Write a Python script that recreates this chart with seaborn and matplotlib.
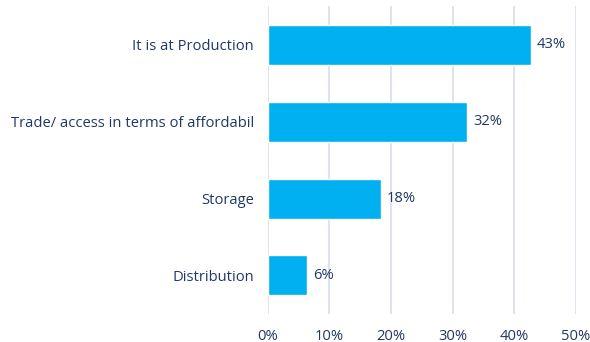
import matplotlib
matplotlib.use("Agg")
import matplotlib.pyplot as plt
import seaborn as sns
import pandas as pd
from matplotlib.ticker import PercentFormatter

categories = ["It is at Production", "Trade/ access in terms of affordabil", "Storage", "Distribution"]
shares = [42.7, 32.4, 18.4, 6.4]
ticks = [0, 10, 20, 30, 40, 50]

df = pd.DataFrame({"category": categories, "share": shares})

sns.set_theme(style="white")
plt.rcParams["font.family"] = ["Open Sans", "DejaVu Sans"]
text_color = "#203864"

fig = plt.figure(figsize=(5.9, 3.42), dpi=100)
ax = fig.add_axes([0.454, 0.082, 0.522, 0.9])

sns.barplot(data=df, x="share", y="category", color="#00B0F0", width=0.52,
            saturation=1, ax=ax, zorder=3)

ax.set_xlim(0, 50)
ax.set_ylim(3.5, -0.5)
ax.set_xticks(ticks)
ax.xaxis.set_major_formatter(PercentFormatter(decimals=0))
ax.grid(axis="x", color="#D9DEE8", linewidth=1.2, zorder=0)
ax.grid(axis="y", visible=False)
for s in ax.spines.values():
    s.set_visible(False)
ax.set_xlabel("")
ax.set_ylabel("")
ax.tick_params(axis="both", length=0, labelsize=10.6, labelcolor=text_color)
ax.tick_params(axis="x", pad=10.5)
ax.tick_params(axis="y", pad=10)

for i, v in enumerate(shares):
    ax.text(v + 0.9, i, f"{round(v):d}%", va="center", ha="left",
            fontsize=10.6, color=text_color)

fig.savefig("out.png", dpi=100)
